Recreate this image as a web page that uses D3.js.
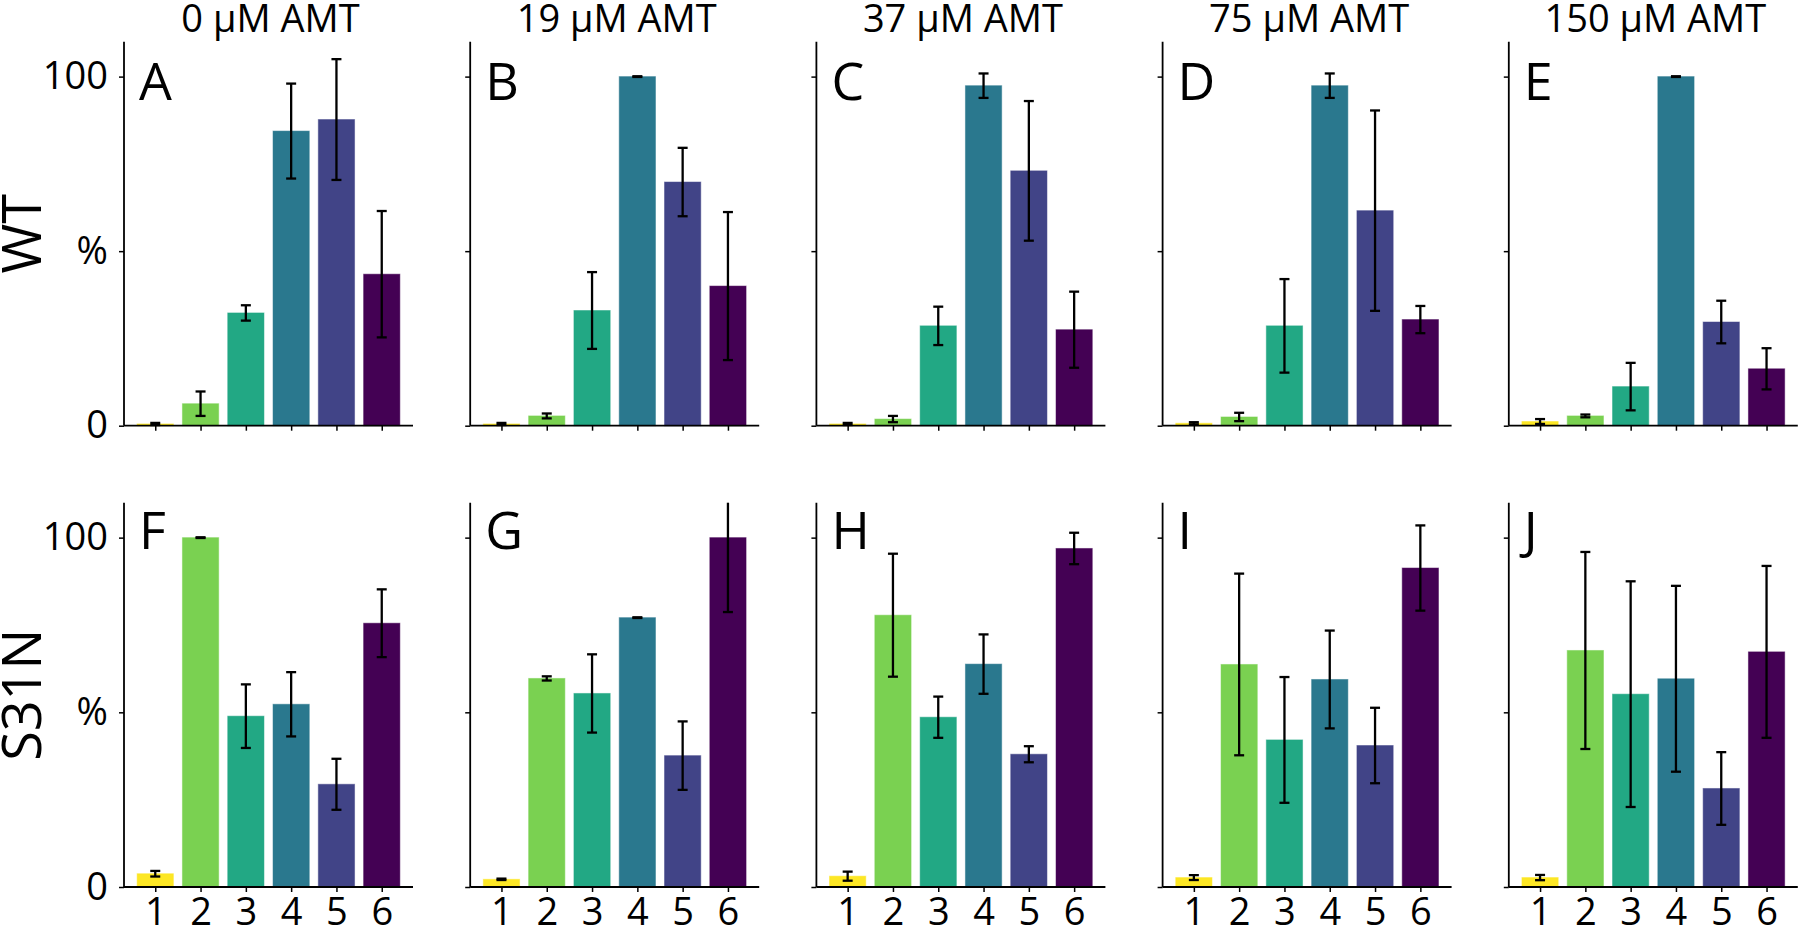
<!DOCTYPE html>
<html>
<head>
<meta charset="utf-8">
<script src="https://cdn.jsdelivr.net/npm/d3@7"></script>
<style>
  html, body { margin: 0; padding: 0; background: #fff; }
  svg { display: block; font-family: "Open Sans", "Noto Sans", sans-serif; }
</style>
</head>
<body>
<svg id="chart" width="1800" height="932"></svg>
<script>
// ---------- data ----------
const categories = ["1", "2", "3", "4", "5", "6"];
const concentrations = ["0 μM AMT", "19 μM AMT", "37 μM AMT", "75 μM AMT", "150 μM AMT"];
const rowLabels = ["WT", "S31N"];
const panelLetters = [["A", "B", "C", "D", "E"], ["F", "G", "H", "I", "J"]];
const yTickValues = [0, 50, 100];
const yTickLabels = ["0", "%", "100"];
const barColors = ["#fde725", "#7ad151", "#22a884", "#2a788e", "#414487", "#440154"];

// WT (row 1), one array per AMT concentration
const wtMeans = [
  [0.5, 6.3, 32.3, 84.4, 87.7, 43.4],
  [0.5, 2.8, 33.0, 100, 69.8, 40.0],
  [0.5, 1.9, 28.6, 97.4, 73.0, 27.5],
  [0.7, 2.5, 28.6, 97.4, 61.6, 30.4],
  [1.2, 2.8, 11.2, 100, 29.7, 16.3]
];
const wtErrors = [
  [0.3, 3.5, 2.2, 13.6, 17.3, 18.1],
  [0.3, 0.7, 11.0, 0.1, 9.8, 21.2],
  [0.3, 0.9, 5.5, 3.5, 20.0, 10.9],
  [0.3, 1.2, 13.4, 3.5, 28.7, 3.9],
  [0.7, 0.4, 6.8, 0.1, 6.1, 5.9]
];
// S31N (row 2)
const s31nMeans = [
  [3.8, 100, 48.9, 52.3, 29.4, 75.5],
  [2.2, 59.7, 55.4, 77.1, 37.6, 100],
  [3.1, 77.8, 48.6, 63.8, 38.0, 96.9],
  [2.7, 63.7, 42.1, 59.4, 40.5, 91.3],
  [2.7, 67.7, 55.2, 59.6, 28.2, 67.3]
];
const s31nErrors = [
  [0.8, 0.1, 9.1, 9.2, 7.3, 9.7],
  [0.2, 0.6, 11.2, 0.1, 9.8, 21.3],
  [1.3, 17.6, 5.9, 8.5, 2.3, 4.5],
  [0.7, 26.0, 18.0, 14.0, 10.8, 12.2],
  [0.75, 28.2, 32.3, 26.6, 10.4, 24.6]
];

const rowMeans = [wtMeans, s31nMeans];
const rowErrors = [wtErrors, s31nErrors];

// ---------- layout ----------
const svg = d3.select("#chart");
const panelW = 289;
const colX = d3.range(5).map(i => 124 + i * 346.2);
const rowTop = [41.7, 502.7];
const rowBottom = [425.7, 887];
const letterOffset = [58.3, 46.6];
const fontSize = 38;

const x = d3.scaleLinear().domain([-0.69, 5.69]).range([0, panelW]);
const barW = x(0.8) - x(0);

rowMeans.forEach((means, r) => {
  const y = d3.scaleLinear().domain([0, 110]).range([rowBottom[r], rowTop[r]]).clamp(true);

  // row label
  const cy = (rowTop[r] + rowBottom[r]) / 2;
  svg.append("text")
    .attr("transform", `translate(41,${cy}) rotate(-90)`)
    .attr("text-anchor", "middle")
    .attr("font-size", 54)
    .attr("fill", "#000")
    .text(rowLabels[r]);

  means.forEach((vals, c) => {
    const errs = rowErrors[r][c];
    const g = svg.append("g").attr("transform", `translate(${colX[c]},0)`);

    // bars
    g.selectAll("rect.bar").data(vals).join("rect")
      .attr("class", "bar")
      .attr("x", (d, i) => x(i) - barW / 2)
      .attr("width", barW)
      .attr("y", d => y(d))
      .attr("height", d => y(0) - y(d))
      .attr("fill", (d, i) => barColors[i])
      .attr("stroke", (d, i) => barColors[i])
      .attr("stroke-opacity", 0.5)
      .attr("stroke-width", 1);

    // error bars
    const eb = g.selectAll("g.err").data(vals).join("g").attr("class", "err");
    eb.append("line")
      .attr("x1", (d, i) => x(i)).attr("x2", (d, i) => x(i))
      .attr("y1", (d, i) => y(d + errs[i]))
      .attr("y2", (d, i) => y(Math.max(0, d - errs[i])))
      .attr("stroke", "#000").attr("stroke-width", 2.3);
    eb.filter((d, i) => d + errs[i] <= 110).append("line")
      .attr("x1", (d, i) => x(i) - 5).attr("x2", (d, i) => x(i) + 5)
      .attr("y1", (d, i) => y(d + errs[i])).attr("y2", (d, i) => y(d + errs[i]))
      .attr("stroke", "#000").attr("stroke-width", 2.3);
    eb.append("line")
      .attr("x1", (d, i) => x(i) - 5).attr("x2", (d, i) => x(i) + 5)
      .attr("y1", (d, i) => y(Math.max(0, d - errs[i]))).attr("y2", (d, i) => y(Math.max(0, d - errs[i])))
      .attr("stroke", "#000").attr("stroke-width", 2.3);

    // y axis
    const yAxis = d3.axisLeft(y).tickValues(yTickValues).tickSize(5).tickPadding(11)
      .tickFormat((d, i) => c === 0 ? yTickLabels[i] : "");
    const ya = g.append("g").call(yAxis);
    ya.select(".domain").attr("d", `M0,${rowTop[r]}V${rowBottom[r]}`).attr("stroke-width", 1.8);
    ya.selectAll(".tick line").attr("stroke-width", 1.5);
    ya.selectAll(".tick text").attr("font-size", fontSize).attr("font-family", "Open Sans").attr("fill", "#000");

    // x axis
    const xAxis = d3.axisBottom(x).tickValues(d3.range(6)).tickSize(5).tickPadding(6)
      .tickFormat(i => r === 1 ? categories[i] : "");
    const xa = g.append("g").attr("transform", `translate(0,${rowBottom[r]})`).call(xAxis);
    xa.select(".domain").attr("d", `M0,0H${panelW}`).attr("stroke-width", 1.8);
    xa.selectAll(".tick line").attr("stroke-width", 1.5);
    xa.selectAll(".tick text").attr("font-size", fontSize).attr("font-family", "Open Sans").attr("fill", "#000");

    // panel letter
    g.append("text")
      .attr("x", 15)
      .attr("y", rowTop[r] + letterOffset[r])
      .attr("font-size", 52)
      .attr("fill", "#000")
      .text(panelLetters[r][c]);

    // column title
    if (r === 0) {
      g.append("text")
        .attr("x", panelW / 2 + 2)
        .attr("y", 32)
        .attr("text-anchor", "middle")
        .attr("font-size", fontSize)
        .attr("fill", "#000")
        .text(concentrations[c]);
    }
  });
});
</script>
</body>
</html>
